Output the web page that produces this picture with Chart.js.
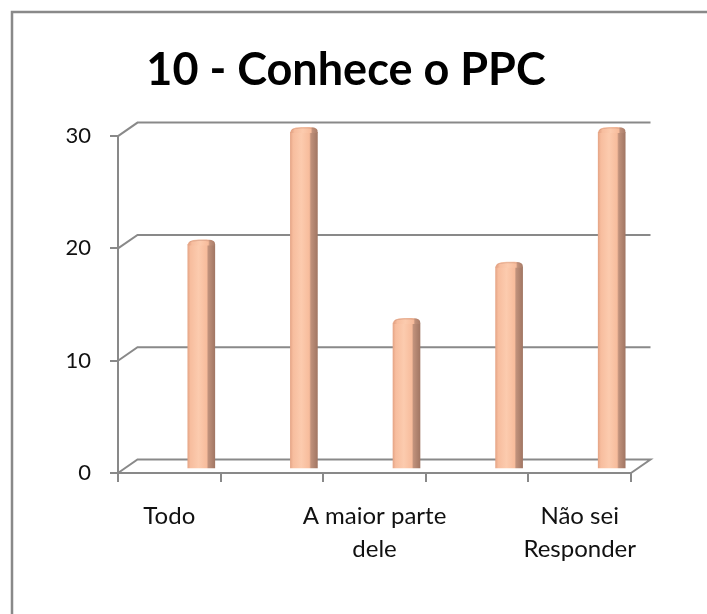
<!DOCTYPE html>
<html>
<head>
<meta charset="utf-8">
<script src="https://cdn.jsdelivr.net/npm/chart.js@4.4.1/dist/chart.umd.min.js"></script>
<style>
  html, body { margin: 0; padding: 0; background: #ffffff; }
  #wrap { position: relative; width: 707px; height: 614px; }
</style>
</head>
<body>
<div id="wrap"><canvas id="c" width="707" height="614"></canvas></div>
<script>
// ---- data ----
const titleText = "10 - Conhece o PPC";
const categories = [["Todo"], ["Quase todo"], ["A maior parte", "dele"], ["Pouco dele"], ["Não sei", "Responder"]];
const shownLabelIdx = [0, 2, 4];
const values = [20, 30, 13, 18, 30];
const yTicks = [0, 10, 20, 30];

const GRAY = '#898989';
const DEPTH_X = 19.5, DEPTH_Y = -13.5;   // back-wall offset
const BAR_DX = 32, BAR_DY = -4;          // bars sit inside the 3D box
const BAR_W = 27;

function barGradient(ctx2d, cx, w) {
  const g = ctx2d.createLinearGradient(cx - w / 2, 0, cx + w / 2, 0);
  g.addColorStop(0.00, '#E6A687');
  g.addColorStop(0.10, '#F7BD9E');
  g.addColorStop(0.40, '#FCCBAE');
  g.addColorStop(0.70, '#F7BC9C');
  g.addColorStop(0.76, '#C0917B');
  g.addColorStop(1.00, '#A27764');
  return g;
}

const box3d = {
  id: 'box3d',
  beforeDraw(chart) {
    const c = chart.ctx;
    c.save();
    c.fillStyle = '#ffffff';
    c.fillRect(0, 0, chart.width, chart.height);
    c.strokeStyle = GRAY;
    c.lineWidth = 2.5;
    c.beginPath();
    c.moveTo(12, chart.height);
    c.lineTo(12, 12);
    c.lineTo(chart.width, 12);
    c.stroke();
    c.restore();
  },
  beforeDatasetsDraw(chart) {
    const c = chart.ctx, y = chart.scales.y, a = chart.chartArea;
    c.save();
    c.strokeStyle = GRAY;
    c.lineWidth = 2;
    yTicks.forEach(v => {
      const yf = y.getPixelForValue(v);
      c.beginPath();
      c.moveTo(a.left, yf);
      c.lineTo(a.left + DEPTH_X, yf + DEPTH_Y);
      c.lineTo(a.right + DEPTH_X, yf + DEPTH_Y);
      if (v === 0) c.lineTo(a.right, yf);
      c.stroke();
    });
    c.restore();
    c.save();
    c.translate(BAR_DX, BAR_DY);
  },
  afterDatasetsDraw(chart) {
    const c = chart.ctx;
    const meta = chart.getDatasetMeta(0);
    meta.data.forEach(el => {
      const w = el.width, x = el.x, top = el.y;
      c.save();
      c.fillStyle = barGradient(c, x + 1.5, w);
      c.beginPath();
      c.moveTo(x - w / 2, top + 1);
      c.bezierCurveTo(x - w / 2, top - 4, x - w / 2 + 4, top - 5, x + 2, top - 5);
      c.bezierCurveTo(x + w / 2 - 2, top - 5, x + w / 2 + 1, top - 4, x + w / 2, top + 1);
      c.closePath();
      c.fill();
      c.fillStyle = 'rgba(190,130,105,0.35)';
      c.beginPath();
      c.moveTo(x - w / 2 + 2, top - 3);
      c.bezierCurveTo(x - w / 2 + 5, top - 5, x + w / 2 - 4, top - 5.5, x + w / 2 - 1, top - 3);
      c.lineTo(x + w / 2 - 1, top - 2);
      c.bezierCurveTo(x + w / 2 - 4, top - 4, x - w / 2 + 5, top - 4, x - w / 2 + 2, top - 2);
      c.closePath();
      c.fill();
      c.restore();
    });
    c.restore();
  }
};

new Chart(document.getElementById('c'), {
  type: 'bar',
  data: {
    labels: categories,
    datasets: [{
      data: values,
      barThickness: BAR_W,
      borderWidth: 0,
      backgroundColor: (ctx) => {
        const chart = ctx.chart;
        const xs = chart.scales && chart.scales.x;
        if (!xs || ctx.type !== 'data' || !isFinite(xs.getPixelForValue(ctx.dataIndex))) return '#FAC3A4';
        return barGradient(chart.ctx, xs.getPixelForValue(ctx.dataIndex), BAR_W);
      }
    }]
  },
  options: {
    responsive: false,
    animation: false,
    events: [],
    layout: { padding: { left: 61, right: 76, top: 0, bottom: 0 } },
    plugins: {
      legend: { display: false },
      tooltip: { enabled: false },
      title: {
        display: true,
        text: titleText,
        color: '#000000',
        font: { family: 'Lato', size: 45, weight: 'bold', lineHeight: 1.2 },
        padding: { top: 43.6, bottom: 38.5 }
      }
    },
    scales: {
      x: {
        grid: { offset: true, drawOnChartArea: false, drawTicks: true, tickLength: 9, color: GRAY, lineWidth: 2 },
        border: { display: true, color: GRAY, width: 2 },
        ticks: {
          autoSkip: false, maxRotation: 0, minRotation: 0, padding: 18,
          color: '#111111',
          font: { family: 'Lato', size: 24, lineHeight: 1.36 },
          callback: function (val, idx) { return shownLabelIdx.includes(idx) ? categories[idx] : ''; }
        },
        afterFit(scale) { scale.height = 141; }
      },
      y: {
        min: 0, max: 30,
        grid: { drawOnChartArea: false, drawTicks: true, tickLength: 8, color: GRAY, lineWidth: 2 },
        border: { display: true, color: GRAY, width: 2 },
        ticks: {
          stepSize: 10, padding: 19, color: '#111111',
          font: { family: 'Lato', size: 22 },
          callback: (v) => yTicks.includes(v) ? String(v) : ''
        },
        afterFit(scale) { scale.width = 57; }
      }
    }
  },
  plugins: [box3d]
});
</script>
</body>
</html>
